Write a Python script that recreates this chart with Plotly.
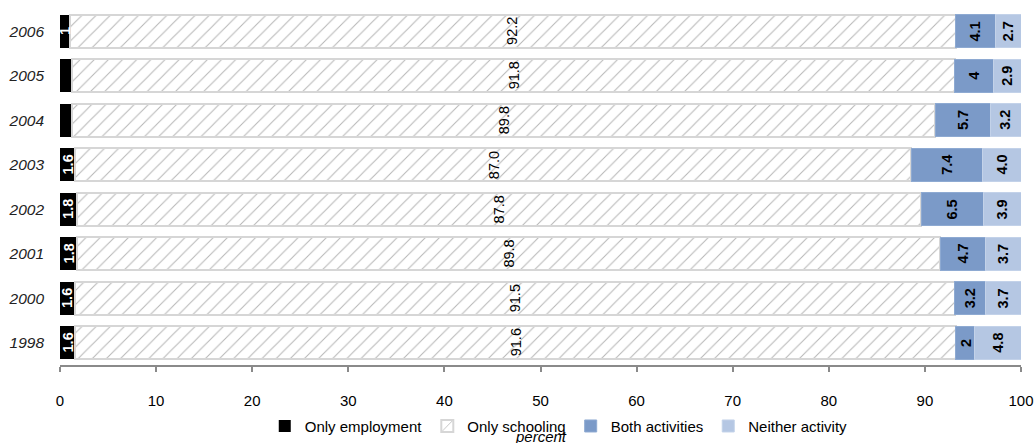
import plotly.graph_objects as go

# Survey years, listed bottom to top
years = ["1998", "2000", "2001", "2002", "2003", "2004", "2005", "2006"]

# Share of youth by activity status (percent)
only_employment = [1.6, 1.6, 1.8, 1.8, 1.6, 1.3, 1.3, 1.0]
only_schooling = [91.6, 91.5, 89.8, 87.8, 87.0, 89.8, 91.8, 92.2]
both_activities = [2, 3.2, 4.7, 6.5, 7.4, 5.7, 4, 4.1]
neither_activity = [4.8, 3.7, 3.7, 3.9, 4.0, 3.2, 2.9, 2.7]

# Text shown on each segment ("" = no label drawn)
employment_labels = ["1.6", "1.6", "1.8", "1.8", "1.6", "", "", "1"]
schooling_labels = ["91.6", "91.5", "89.8", "87.8", "87.0", "89.8", "91.8", "92.2"]
both_labels = ["2", "3.2", "4.7", "6.5", "7.4", "5.7", "4", "4.1"]
neither_labels = ["4.8", "3.7", "3.7", "3.9", "4.0", "3.2", "2.9", "2.7"]

FONT = "Liberation Sans, Arial, sans-serif"
C_EMP = "#000000"
C_BOTH = "#7b9ac8"
C_NEITHER = "#b5c7e3"

fig = go.Figure()

fig.add_trace(go.Bar(
    y=years, x=only_employment, orientation="h", name="Only employment",
    marker=dict(color=C_EMP, line=dict(color=C_EMP, width=0)),
))
fig.add_trace(go.Bar(
    y=years, x=only_schooling, orientation="h", name="Only schooling",
    marker=dict(
        color="white",
        line=dict(color="#d6d6d6", width=2),
        pattern=dict(shape="/", fgcolor="#6e6e6e", bgcolor="white",
                     size=10, solidity=0.1),
    ),
))
fig.add_trace(go.Bar(
    y=years, x=both_activities, orientation="h", name="Both activities",
    marker=dict(color=C_BOTH, line=dict(color="#8eaad2", width=1)),
))
fig.add_trace(go.Bar(
    y=years, x=neither_activity, orientation="h", name="Neither activity",
    marker=dict(color=C_NEITHER, line=dict(color="#c3d2e9", width=1)),
))

# Rotated value labels at the middle of every segment
# (y given as category index so numeric-looking year names are not
#  read as numbers)
series = [
    (only_employment, employment_labels, "white", True),
    (only_schooling, schooling_labels, "black", False),
    (both_activities, both_labels, "black", True),
    (neither_activity, neither_labels, "black", True),
]
annotations = []
for i, yr in enumerate(years):
    start = 0.0
    for values, labels, colour, bold in series:
        v = values[i]
        txt = labels[i]
        if txt:
            annotations.append(dict(
                x=start + v / 2, y=i, xref="x", yref="y",
                text=f"<b>{txt}</b>" if bold else txt,
                textangle=-90, showarrow=False,
                font=dict(family=FONT, size=14.5, color=colour),
            ))
        start += v

annotations.append(dict(
    x=0.5, y=-0.2, xref="paper", yref="paper", yanchor="middle",
    text="<i>percent</i>", showarrow=False,
    font=dict(family=FONT, size=15, color="#000"),
))

fig.update_layout(
    barmode="stack",
    bargap=0.26,
    width=1034, height=443,
    margin=dict(l=60, r=13, t=9, b=78, autoexpand=False),
    paper_bgcolor="white", plot_bgcolor="white",
    font=dict(family=FONT, size=15, color="#000"),
    showlegend=True,
    legend=dict(
        orientation="h", x=0.519, xanchor="center", y=-0.172, yanchor="middle",
        bgcolor="rgba(0,0,0,0)",
        font=dict(family=FONT, size=15, color="#000"),
        itemwidth=30, traceorder="normal",
    ),
    annotations=annotations,
)
fig.update_xaxes(
    range=[0, 100], dtick=10, tick0=0,
    showgrid=False, zeroline=False,
    showline=True, linecolor="#8a8a8a", linewidth=1.5,
    ticks="outside", ticklen=5, tickcolor="#8a8a8a", tickwidth=1.5,
    ticklabelstandoff=16,
    tickfont=dict(family=FONT, size=15, color="#000"),
)
fig.update_yaxes(
    type="category", categoryorder="array", categoryarray=years,
    range=[-0.5, len(years) - 0.5],
    showgrid=False, zeroline=False, showline=False, ticks="",
    tickfont=dict(family=FONT, size=15.5, color="#222"),
    ticklabelstandoff=15,
    tickvals=years, ticktext=[f"<i>{y}</i>" for y in years],
)

fig.write_html("out.html")
